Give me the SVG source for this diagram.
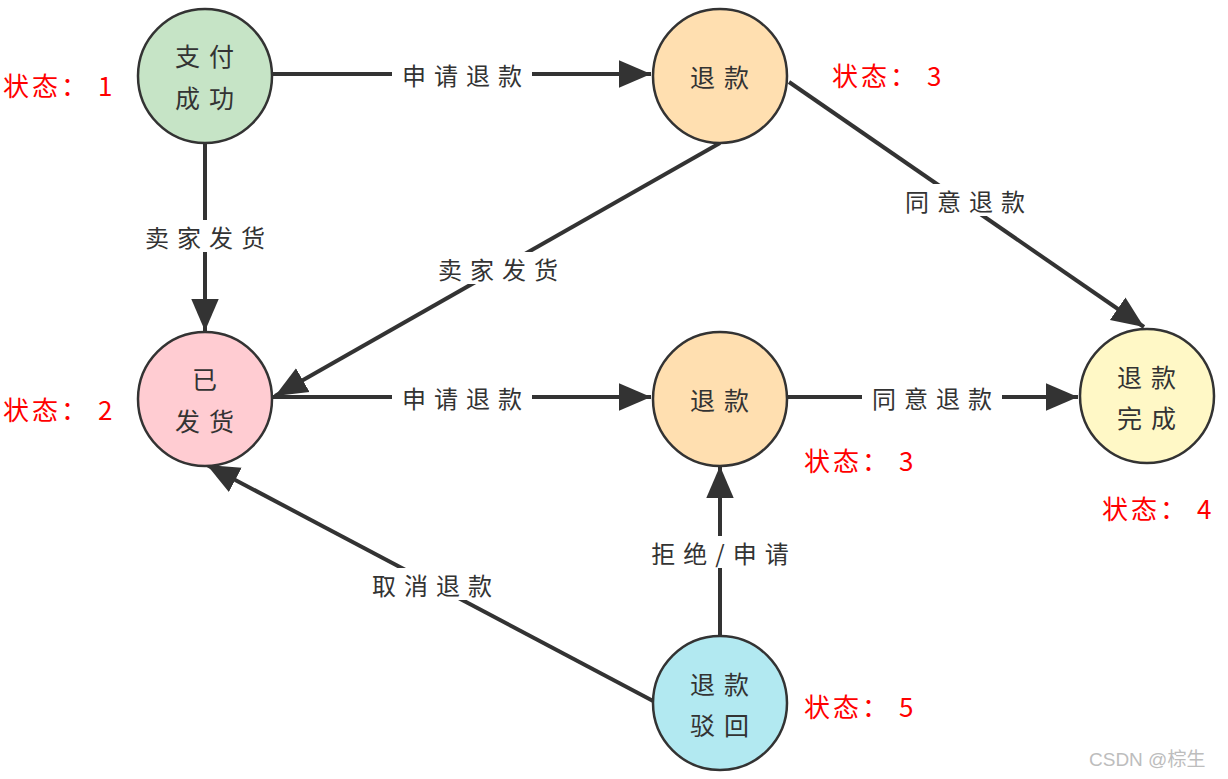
<svg xmlns="http://www.w3.org/2000/svg" width="1228" height="779" viewBox="0 0 1228 779">
<style>
.node{stroke:#333;stroke-width:2.5}
.nt{font-family:"Noto Sans CJK SC","Noto Sans CJK TC",sans-serif;font-size:25px;fill:#333;text-anchor:middle;letter-spacing:9px;dominant-baseline:central}
.edge{stroke:#333;stroke-width:4;fill:none}
.lbl{font-family:"Noto Sans CJK SC",sans-serif;font-size:24px;fill:#333;text-anchor:middle;letter-spacing:8px;dominant-baseline:central}
.lblbg{fill:#fff}
.st{font-family:"Noto Sans CJK SC","Liberation Sans",sans-serif;font-size:26px;fill:#ff0000;letter-spacing:3px}
.wm{font-family:"Liberation Sans","Noto Sans CJK SC",sans-serif;font-size:19px;fill:#bdbdbd}
</style>
<defs>
<marker id="ah" markerWidth="8" markerHeight="8" refX="7" refY="3" orient="auto" markerUnits="strokeWidth" viewBox="0 0 7 6">
<path d="M0,0 L7,3 L0,6 Z" fill="#333"/>
</marker>
</defs>
<rect width="1228" height="779" fill="#fff"/>
<g id="connectors">
<line class="edge" x1="273" y1="74" x2="651" y2="74" marker-end="url(#ah)"/>
<line class="edge" x1="205" y1="143" x2="205" y2="331" marker-end="url(#ah)"/>
<line class="edge" x1="720" y1="143" x2="275" y2="396" marker-end="url(#ah)"/>
<line class="edge" x1="789" y1="82" x2="1144" y2="327" marker-end="url(#ah)"/>
<line class="edge" x1="273" y1="397" x2="651" y2="397" marker-end="url(#ah)"/>
<line class="edge" x1="788" y1="397" x2="1078" y2="397" marker-end="url(#ah)"/>
<line class="edge" x1="720" y1="635" x2="720" y2="466" marker-end="url(#ah)"/>
<line class="edge" x1="655" y1="702" x2="207" y2="465" marker-end="url(#ah)"/>
<g id="edge-labels">
<rect class="lblbg" x="392" y="60" width="140" height="30"/>
<text class="lbl" x="466" y="74">申请退款</text>
<rect class="lblbg" x="135" y="220" width="140" height="32"/>
<text class="lbl" x="209" y="236">卖家发货</text>
<rect class="lblbg" x="428" y="252" width="140" height="32"/>
<text class="lbl" x="502" y="268">卖家发货</text>
<rect class="lblbg" x="895" y="184" width="140" height="32"/>
<text class="lbl" x="969" y="200">同意退款</text>
<rect class="lblbg" x="392" y="383" width="140" height="30"/>
<text class="lbl" x="466" y="397">申请退款</text>
<rect class="lblbg" x="862" y="383" width="140" height="30"/>
<text class="lbl" x="936" y="397">同意退款</text>
<rect class="lblbg" x="638" y="536" width="165" height="32"/>
<text class="lbl" x="724" y="552">拒绝/申请</text>
<rect class="lblbg" x="362" y="568" width="140" height="32"/>
<text class="lbl" x="436" y="584">取消退款</text>
</g>
</g>
<g id="n-pay">
<circle class="node" cx="205" cy="76" r="67" fill="#c6e4c6"/>
<text class="nt" x="209" y="55">支付</text>
<text class="nt" x="209" y="97">成功</text>
</g>
<g id="n-refund1">
<circle class="node" cx="720" cy="76" r="67" fill="#ffdfb0"/>
<text class="nt" x="724" y="76">退款</text>
</g>
<g id="n-shipped">
<circle class="node" cx="205" cy="399" r="67" fill="#ffccd2"/>
<text class="nt" x="209" y="378">已</text>
<text class="nt" x="209" y="420">发货</text>
</g>
<g id="n-refund2">
<circle class="node" cx="720" cy="399" r="67" fill="#ffdfb0"/>
<text class="nt" x="724" y="399">退款</text>
</g>
<g id="n-done">
<circle class="node" cx="1147" cy="396" r="67" fill="#fff8c6"/>
<text class="nt" x="1151" y="376">退款</text>
<text class="nt" x="1151" y="417">完成</text>
</g>
<g id="n-reject">
<circle class="node" cx="720" cy="703" r="67" fill="#b2e9f1"/>
<text class="nt" x="724" y="683">退款</text>
<text class="nt" x="724" y="724">驳回</text>
</g>
<g id="states">
<text class="st" x="3" y="96">状态：<tspan x="98">1</tspan></text>
<text class="st" x="832" y="86">状态：<tspan x="927">3</tspan></text>
<text class="st" x="3" y="420">状态：<tspan x="98">2</tspan></text>
<text class="st" x="804" y="471">状态：<tspan x="899">3</tspan></text>
<text class="st" x="1102" y="519">状态：<tspan x="1197">4</tspan></text>
<text class="st" x="804" y="717">状态：<tspan x="899">5</tspan></text>
</g>
<text class="wm" x="1089" y="766">CSDN @棕生</text>
</svg>
